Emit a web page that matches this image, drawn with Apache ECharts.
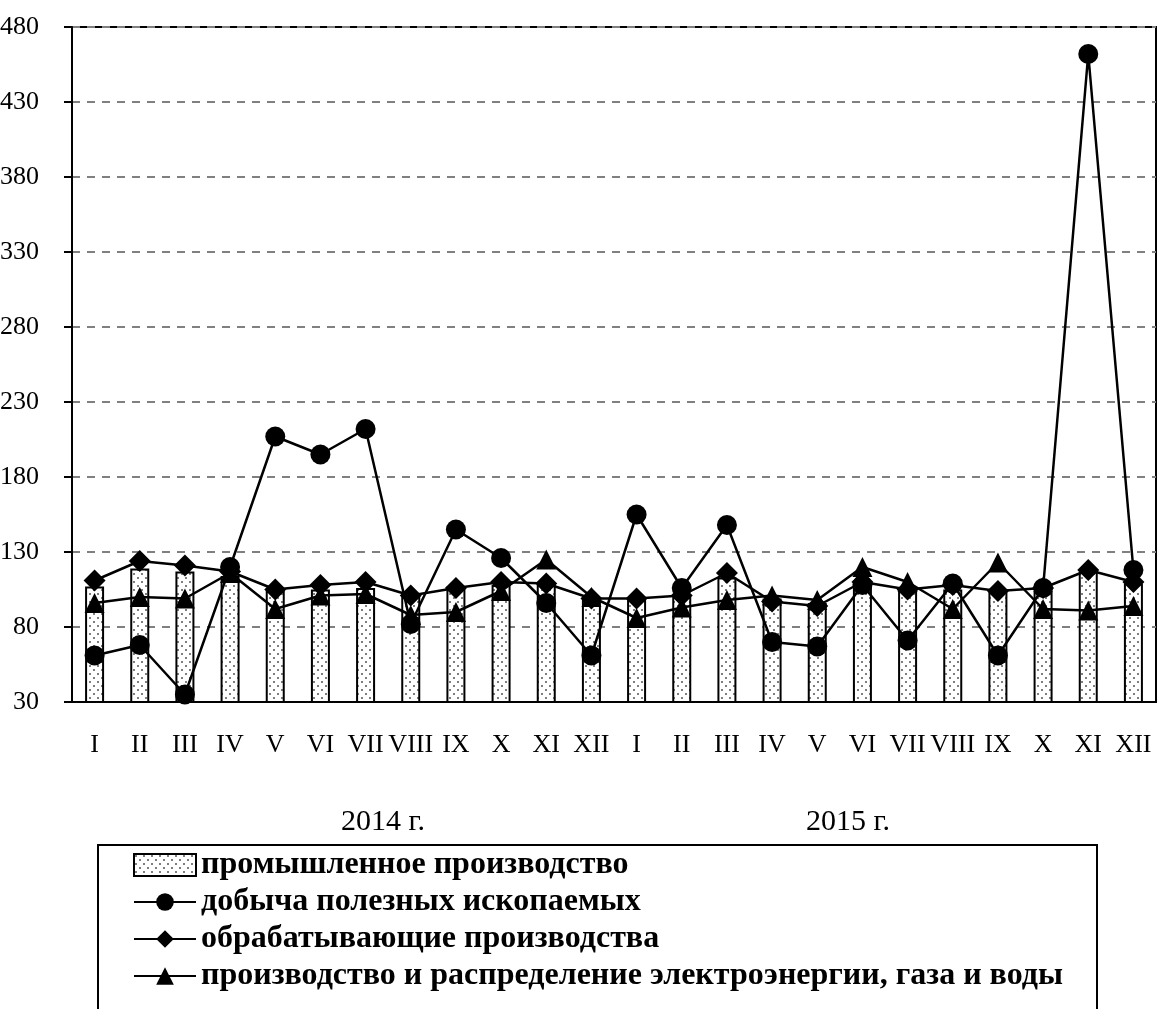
<!DOCTYPE html>
<html>
<head>
<meta charset="utf-8">
<script src="https://cdn.jsdelivr.net/npm/echarts@6/dist/echarts.min.js"></script>
<style>
  html, body { margin: 0; padding: 0; background: #fff; }
  #chart { width: 1158px; height: 1009px; }
</style>
</head>
<body>
<div id="chart"></div>
<script>
const months = ['I', 'II', 'III', 'IV', 'V', 'VI', 'VII', 'VIII', 'IX', 'X', 'XI', 'XII',
  'I', 'II', 'III', 'IV', 'V', 'VI', 'VII', 'VIII', 'IX', 'X', 'XI', 'XII'];
const years = ['2014 г.', '2015 г.'];

const industry = [107, 119, 117, 114, 104, 105, 106, 102, 107, 108, 108, 98,
  98, 100, 113, 99, 96, 107, 104, 105, 105, 104, 117, 109];
const mining = [61, 68, 35, 120, 207, 195, 212, 82, 145, 126, 96, 61,
  155, 106, 148, 70, 67, 108, 71, 109, 61, 106, 462, 118];
const manufacturing = [111, 124, 121, 117, 105, 108, 110, 101, 106, 110, 109, 99,
  99, 101, 116, 97, 94, 110, 105, 108, 104, 106, 118, 110];
const energy = [96, 100, 99, 116, 92, 101, 102, 88, 90, 104, 125, 100,
  86, 93, 98, 101, 98, 120, 110, 92, 123, 92, 91, 94];

const names = [
  'промышленное производство',
  'добыча полезных ископаемых',
  'обрабатывающие производства',
  'производство и распределение электроэнергии, газа и воды'
];

// точечная штриховка для столбиков
const dots = document.createElement('canvas');
dots.width = 8;
dots.height = 8;
const ctx = dots.getContext('2d');
ctx.fillStyle = '#fff';
ctx.fillRect(0, 0, 8, 8);
ctx.fillStyle = '#555';
ctx.beginPath(); ctx.arc(2, 2, 1, 0, Math.PI * 2); ctx.fill();
ctx.beginPath(); ctx.arc(6, 6, 1, 0, Math.PI * 2); ctx.fill();

const font = 'Liberation Serif';
const chart = echarts.init(document.getElementById('chart'));

const lineSeries = (name, data, symbol, size) => ({
  name: name,
  type: 'line',
  data: data,
  symbol: symbol,
  symbolSize: size,
  z: 3,
  lineStyle: { color: '#000', width: 2.5 },
  itemStyle: { color: '#000' }
});

chart.setOption({
  animation: false,
  grid: {
    left: 72,
    right: 2,
    top: 27,
    bottom: 307,
    outerBoundsMode: 'none',
    show: true,
    borderColor: '#000',
    borderWidth: 2
  },
  xAxis: {
    type: 'category',
    data: months,
    axisLine: { lineStyle: { color: '#000', width: 2 } },
    axisTick: { length: 6, lineStyle: { color: '#000', width: 2 } },
    axisLabel: { interval: 0, margin: 30, color: '#000', fontFamily: font, fontSize: 26 }
  },
  yAxis: {
    type: 'value',
    min: 30,
    max: 480,
    interval: 50,
    axisLine: { show: true, lineStyle: { color: '#000', width: 2 } },
    axisTick: { show: true, length: 8, lineStyle: { color: '#000', width: 2 } },
    axisLabel: { margin: 33, color: '#000', fontFamily: font, fontSize: 26 },
    splitLine: { lineStyle: { color: '#808080', width: 2, type: [8, 7] } }
  },
  legend: {
    orient: 'vertical',
    left: 133,
    top: 849,
    padding: 0,
    itemWidth: 62,
    itemHeight: 22,
    itemGap: 5,
    textStyle: { color: '#000', fontFamily: font, fontSize: 32, fontWeight: 'bold', lineHeight: 32 },
    data: [{ name: names[0], icon: 'rect' }, names[1], names[2], names[3]]
  },
  graphic: [
    { type: 'text', left: 341, top: 807, style: { text: years[0], font: '30px "Liberation Serif"', fill: '#000' } },
    { type: 'text', left: 806, top: 807, style: { text: years[1], font: '30px "Liberation Serif"', fill: '#000' } },
    {
      type: 'rect',
      shape: { x: 98, y: 845, width: 999, height: 300 },
      style: { fill: 'none', stroke: '#000', lineWidth: 2 },
      z: -1
    }
  ],
  series: [
    {
      name: names[0],
      type: 'bar',
      data: industry,
      barWidth: 19,
      z: 2,
      itemStyle: {
        color: { image: dots, repeat: 'repeat' },
        borderColor: '#000',
        borderWidth: 2
      }
    },
    lineSeries(names[1], mining, 'circle', 20),
    lineSeries(names[2], manufacturing, 'diamond', 22),
    lineSeries(names[3], energy, 'triangle', 20)
  ]
});

window.addEventListener('resize', () => {
  chart.resize();
});
</script>
</body>
</html>
